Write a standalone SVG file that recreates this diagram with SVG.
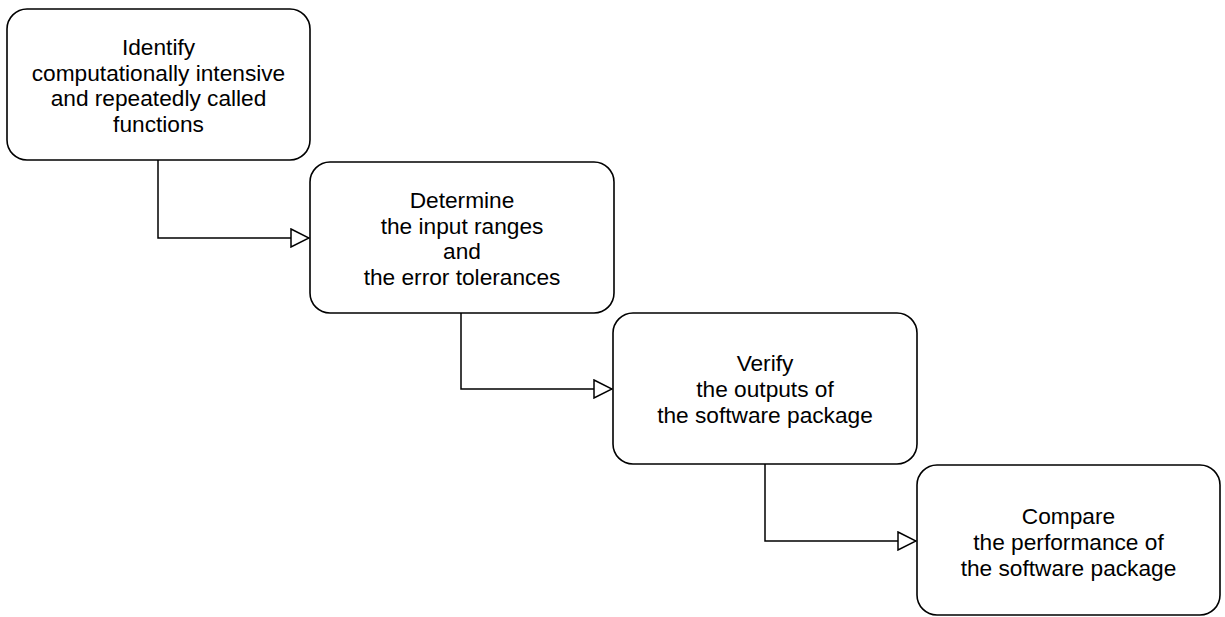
<svg xmlns="http://www.w3.org/2000/svg" width="1225" height="617" viewBox="0 0 1225 617">
<defs>
<style>
.box{fill:#ffffff;stroke:#000000;stroke-width:1.6}
.t{font-family:"Liberation Sans",Arial,Helvetica,sans-serif;font-size:22.7px;fill:#000000;text-anchor:middle}
.c{fill:none;stroke:#000000;stroke-width:1.5}
</style>
<marker id="arr" viewBox="0 0 20 20" refX="19" refY="10" markerWidth="20" markerHeight="20" markerUnits="userSpaceOnUse" orient="auto">
<path d="M1,1 L19,10 L1,19 Z" fill="#ffffff" stroke="#000000" stroke-width="1.5"/>
</marker>
</defs>
<rect width="1225" height="617" fill="#ffffff"/>
<g id="connectors">
<path class="c" d="M158,160 V238 H309" marker-end="url(#arr)"/>
<path class="c" d="M461,313 V389 H612" marker-end="url(#arr)"/>
<path class="c" d="M765,464 V541 H916" marker-end="url(#arr)"/>
</g>
<g id="n1">
<rect class="box" x="7" y="9" width="303" height="151" rx="20" ry="20"/>
<text class="t" x="158.5" y="55">Identify</text>
<text class="t" x="158.5" y="80.5">computationally intensive</text>
<text class="t" x="158.5" y="106">and repeatedly called</text>
<text class="t" x="158.5" y="131.5">functions</text>
</g>
<g id="n2">
<rect class="box" x="310" y="162" width="304" height="151" rx="20" ry="20"/>
<text class="t" x="462" y="208">Determine</text>
<text class="t" x="462" y="233.5">the input ranges</text>
<text class="t" x="462" y="259">and</text>
<text class="t" x="462" y="284.5">the error tolerances</text>
</g>
<g id="n3">
<rect class="box" x="613" y="313" width="304" height="151" rx="20" ry="20"/>
<text class="t" x="765" y="371">Verify</text>
<text class="t" x="765" y="397">the outputs of</text>
<text class="t" x="765" y="423">the software package</text>
</g>
<g id="n4">
<rect class="box" x="917" y="465" width="303" height="150" rx="20" ry="20"/>
<text class="t" x="1068.5" y="524">Compare</text>
<text class="t" x="1068.5" y="550">the performance of</text>
<text class="t" x="1068.5" y="576">the software package</text>
</g>
</svg>
